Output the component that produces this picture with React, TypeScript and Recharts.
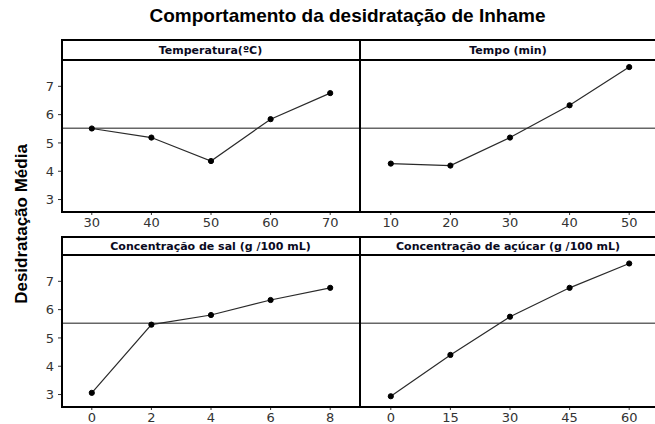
import React from "react";
import { LineChart, Line, XAxis, YAxis, ReferenceLine } from "recharts";

const TITLE = "Comportamento da desidratação de Inhame";
const Y_LABEL = "Desidratação Média";
const MEAN = 5.52;
const yTicks = [3, 4, 5, 6, 7];

const tempX = [30, 40, 50, 60, 70];
const tempY = [5.51, 5.19, 4.36, 5.84, 6.76];
const timeX = [10, 20, 30, 40, 50];
const timeY = [4.27, 4.2, 5.19, 6.33, 7.68];
const saltX = [0, 2, 4, 6, 8];
const saltY = [3.06, 5.47, 5.81, 6.34, 6.77];
const sugarX = [0, 15, 30, 45, 60];
const sugarY = [2.94, 4.4, 5.75, 6.77, 7.63];

const panelTitles = [
  "Temperatura(ºC)",
  "Tempo (min)",
  "Concentração de sal (g /100 mL)",
  "Concentração de açúcar (g /100 mL)",
];

const Y_DOMAIN: [number, number] = [2.56, 7.93];
const TICK_FONT = { fontFamily: "DejaVu Sans", fontSize: 13, fill: "#333" };

type PanelProps = {
  title: string;
  xs: number[];
  ys: number[];
  xDomain: [number, number];
  showY: boolean;
  headerTop: number;
  plotTop: number;
  plotBottom: number;
};

const Line2 = ({ x, y, w, h }: { x: number; y: number; w: number; h: number }) => (
  <div style={{ position: "absolute", left: x, top: y, width: w, height: h, background: "#000" }} />
);

function Panel({ title, xs, ys, xDomain, showY, headerTop, plotTop, plotBottom }: PanelProps) {
  const data = xs.map((x, i) => ({ x, y: ys[i] }));
  const plotH = plotBottom - plotTop;
  const left = showY ? 0 : 361;
  const width = showY ? 360 : 298;
  const headerLeft = showY ? 62 : 361;
  const headerW = showY ? 297 : 294;
  return (
    <>
      <div
        style={{
          position: "absolute",
          left: headerLeft,
          top: headerTop,
          width: headerW,
          height: plotTop - headerTop,
          display: "flex",
          alignItems: "center",
          justifyContent: "center",
          fontFamily: "DejaVu Sans",
          fontWeight: "bold",
          fontSize: 11,
          color: "#0a0a1e",
          whiteSpace: "nowrap",
        }}
      >
        {title}
      </div>
      <div style={{ position: "absolute", left, top: plotTop }}>
        <LineChart
          width={width}
          height={plotH + 26}
          data={data}
          margin={{ top: 0, right: 0, bottom: 0, left: 0 }}
        >
          <XAxis
            dataKey="x"
            type="number"
            domain={xDomain}
            ticks={xs}
            allowDataOverflow
            axisLine={false}
            tickLine={{ stroke: "#333" }}
            tickSize={3}
            tickMargin={3}
            height={26}
            tick={TICK_FONT}
            interval={0}
          />
          <YAxis
            type="number"
            domain={Y_DOMAIN}
            ticks={yTicks}
            allowDataOverflow
            axisLine={false}
            tickLine={{ stroke: "#333" }}
            tickSize={4}
            tickMargin={4}
            width={62}
            tick={TICK_FONT}
            hide={!showY}
            interval={0}
          />
          <ReferenceLine y={MEAN} stroke="#666" strokeWidth={1.5} />
          <Line
            dataKey="y"
            type="linear"
            stroke="#2a2a2a"
            strokeWidth={1.2}
            dot={{ r: 2.6, fill: "#000", stroke: "#000", strokeWidth: 1 }}
            isAnimationActive={false}
          />
        </LineChart>
      </div>
    </>
  );
}

function Borders({ headerTop, plotTop, plotBottom }: { headerTop: number; plotTop: number; plotBottom: number }) {
  return (
    <>
      <Line2 x={61} y={headerTop - 1} w={600} h={2} />
      <Line2 x={61} y={plotTop - 1} w={600} h={2} />
      <Line2 x={61} y={plotBottom - 1} w={600} h={2} />
      <Line2 x={61} y={headerTop - 1} w={2} h={plotBottom - headerTop + 2} />
      <Line2 x={359} y={headerTop - 1} w={2} h={plotBottom - headerTop + 2} />
    </>
  );
}

export default function App() {
  const top = { headerTop: 40, plotTop: 60, plotBottom: 212 };
  const bot = { headerTop: 237, plotTop: 255, plotBottom: 407 };
  return (
    <div
      style={{
        position: "absolute",
        left: 0,
        top: 0,
        width: 655,
        height: 424,
        overflow: "hidden",
        background: "#fff",
      }}
    >
      <div
        style={{
          position: "absolute",
          left: 20,
          top: 5,
          width: 655,
          textAlign: "center",
          fontFamily: "Liberation Sans",
          fontWeight: "bold",
          fontSize: 19,
          color: "#000",
          whiteSpace: "nowrap",
        }}
      >
        {TITLE}
      </div>
      <svg style={{ position: "absolute", left: 0, top: 0 }} width={40} height={424}>
        <text
          x={0}
          y={0}
          transform="translate(27,224) rotate(-90)"
          textAnchor="middle"
          fontFamily="Liberation Sans"
          fontWeight="bold"
          fontSize={17}
          fill="#000"
        >
          {Y_LABEL}
        </text>
      </svg>
      <Panel title={panelTitles[0]} xs={tempX} ys={tempY} xDomain={[25, 75]} showY {...top} />
      <Panel title={panelTitles[1]} xs={timeX} ys={timeY} xDomain={[5, 55]} showY={false} {...top} />
      <Panel title={panelTitles[2]} xs={saltX} ys={saltY} xDomain={[-1, 9]} showY {...bot} />
      <Panel title={panelTitles[3]} xs={sugarX} ys={sugarY} xDomain={[-7.5, 67.5]} showY={false} {...bot} />
      <Borders {...top} />
      <Borders {...bot} />
    </div>
  );
}
